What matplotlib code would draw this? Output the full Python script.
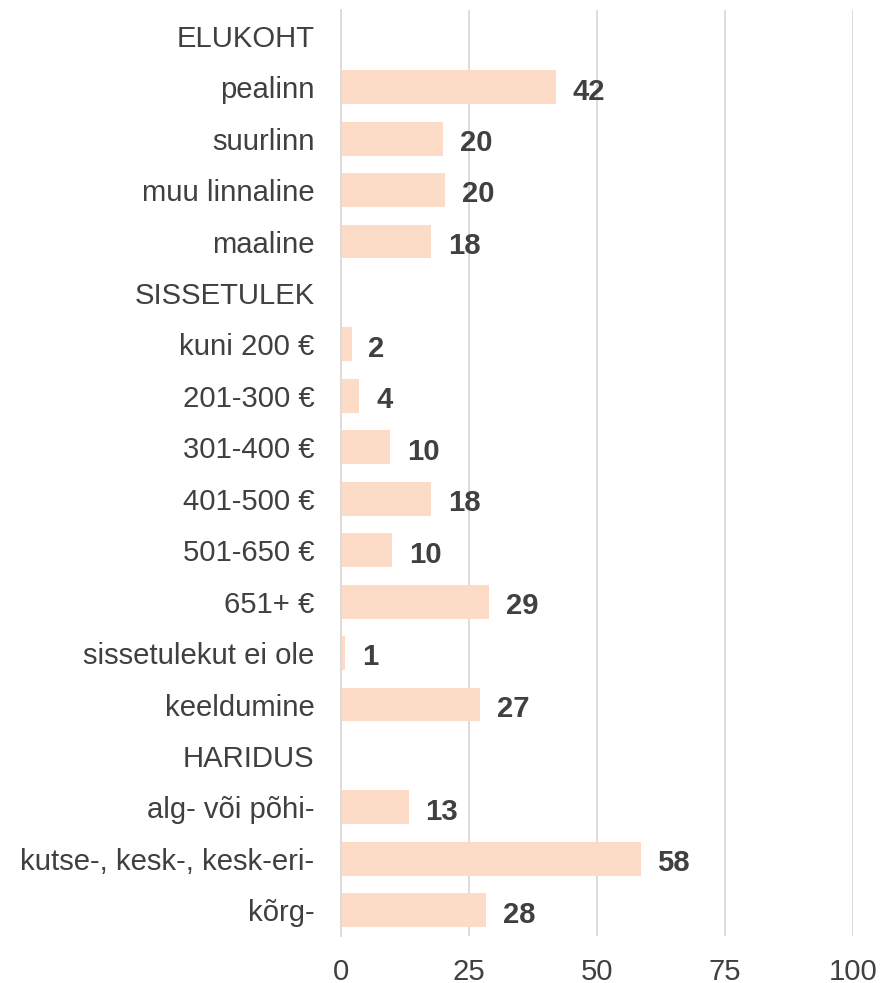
import matplotlib.pyplot as plt
import numpy as np

plt.rcParams["font.family"] = ["Liberation Sans", "DejaVu Sans"]

# Categories top to bottom; None = section header (no bar)
categories = [
    "ELUKOHT", "pealinn", "suurlinn", "muu linnaline", "maaline",
    "SISSETULEK", "kuni 200 €", "201-300 €", "301-400 €", "401-500 €",
    "501-650 €", "651+ €", "sissetulekut ei ole", "keeldumine",
    "HARIDUS", "alg- või põhi-", "kutse-, kesk-, kesk-eri-", "kõrg-",
]
values = [
    None, 41.9, 19.9, 20.3, 17.6,
    None, 2.1, 3.6, 9.6, 17.6,
    10.0, 28.9, 0.8, 27.2,
    None, 13.2, 58.5, 28.4,
]
xticks = [0, 25, 50, 75, 100]

bar_color = "#FDDCC7"
grid_color = "#DCDCDC"
text_color = "#404040"
fs = 21.1

fig = plt.figure(figsize=(8.82, 9.83), dpi=100)
ax = fig.add_axes([0.3866, 0.0478, 0.9671 - 0.3866, 0.9898 - 0.0478])

y = np.arange(len(categories))
for yi, v in zip(y, values):
    if v is None:
        continue
    ax.barh(yi, v, height=0.66, color=bar_color, zorder=2)
    ax.annotate(f"{v:.0f}", xy=(v, yi), xytext=(12, -1), textcoords="offset points",
                va="center_baseline", ha="left", fontsize=fs, fontweight="bold",
                color=text_color)

ax.set_yticks(y)
ax.set_yticklabels(categories)
ax.set_ylim(len(categories) - 0.5, -0.5)
ax.set_xlim(0, 100)
ax.set_xticks(xticks)
ax.tick_params(axis="y", length=0, pad=19, labelsize=fs, labelcolor=text_color)
ax.tick_params(axis="x", length=0, pad=16, labelsize=fs, labelcolor=text_color)

ax.grid(axis="x", color=grid_color, linewidth=1.4, zorder=0)
ax.set_axisbelow(True)
for side in ["top", "right", "bottom"]:
    ax.spines[side].set_visible(False)
ax.spines["left"].set_color(grid_color)
ax.spines["left"].set_linewidth(1.4)

fig.savefig("out.png", dpi=100)
